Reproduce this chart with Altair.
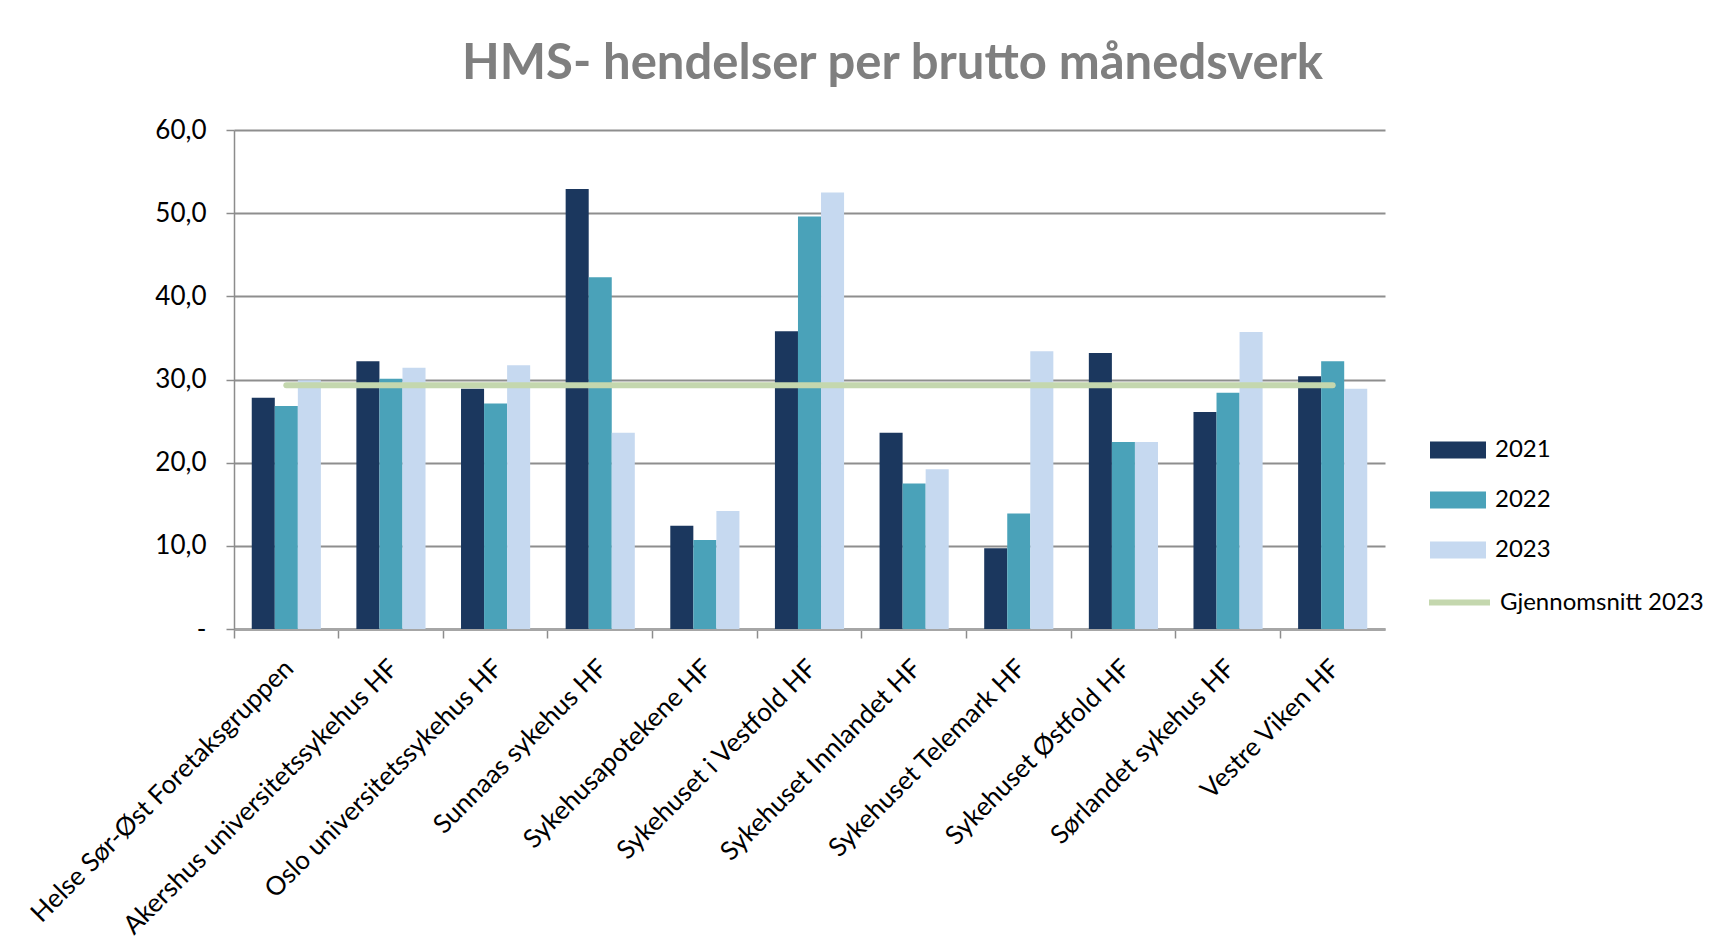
import altair as alt
import pandas as pd

categories = [
    "Helse Sør-Øst Foretaksgruppen",
    "Akershus universitetssykehus HF",
    "Oslo universitetssykehus HF",
    "Sunnaas sykehus HF",
    "Sykehusapotekene HF",
    "Sykehuset i Vestfold HF",
    "Sykehuset Innlandet HF",
    "Sykehuset Telemark HF",
    "Sykehuset Østfold HF",
    "Sørlandet sykehus HF",
    "Vestre Viken HF",
]
years = ["2021", "2022", "2023"]
v2021 = [27.8, 32.2, 28.9, 52.9, 12.4, 35.8, 23.6, 9.7, 33.2, 26.1, 30.4]
v2022 = [26.8, 30.1, 27.1, 42.3, 10.7, 49.6, 17.5, 13.9, 22.5, 28.4, 32.2]
v2023 = [29.9, 31.4, 31.7, 23.6, 14.2, 52.5, 19.2, 33.4, 22.5, 35.7, 28.9]
avg_label = "Gjennomsnitt 2023"
avg_2023 = 29.3
y_ticks = [0, 10, 20, 30, 40, 50, 60]

bar_colors = ["#1b375e", "#4aa2b9", "#c6d9f0"]
avg_color = "#c4d7ae"
FONT = "Lato"

rows = []
for yr, vals in zip(years, [v2021, v2022, v2023]):
    for c, v in zip(categories, vals):
        rows.append({"Enhet": c, "År": yr, "Verdi": v})
df = pd.DataFrame(rows)
line_df = pd.DataFrame({"Enhet": categories, "Verdi": [avg_2023] * len(categories),
                        "Serie": [avg_label] * len(categories)})

x_enc = alt.X(
    "Enhet:N", sort=categories, title=None,
    scale=alt.Scale(paddingInner=0, paddingOuter=0),
    axis=alt.Axis(
        labelAngle=-45, labelAlign="right", labelBaseline="middle",
        bandPosition=0, labelOffset=3, labelPadding=26, labelLimit=0,
        labelFont=FONT, labelFontSize=26, labelColor="#000000",
        tickSize=9, tickColor="#8c8c8c", tickWidth=1.5,
        domainColor="#a6a6a6", domainWidth=3, grid=False,
    ),
)

bars = alt.Chart(df).mark_bar().encode(
    x=x_enc,
    xOffset=alt.XOffset("År:N", sort=years,
                        scale=alt.Scale(paddingInner=0, paddingOuter=0.77)),
    y=alt.Y(
        "Verdi:Q", title=None,
        scale=alt.Scale(domain=[0, 60], nice=False),
        axis=alt.Axis(
            values=y_ticks,
            labelExpr="datum.value == 0 ? '-' : replace(format(datum.value, '.1f'), '.', ',')",
            labelFont=FONT, labelFontSize=26, labelColor="#000000", labelPadding=20,
            tickSize=8, tickColor="#8c8c8c", tickWidth=1.5,
            domainColor="#8c8c8c", domainWidth=1.5,
            grid=True, gridColor="#8e8e8e", gridWidth=1.8,
        ),
    ),
    fill=alt.Fill(
        "År:N",
        scale=alt.Scale(domain=years, range=bar_colors),
        legend=alt.Legend(
            title=None, orient="none", legendX=1196, legendY=292,
            symbolType="M-1,-0.3H1V0.3H-1Z", symbolSize=3136,
            symbolStrokeWidth=0, symbolOpacity=1,
            labelFont=FONT, labelFontSize=24, labelColor="#000000",
            labelOffset=9, rowPadding=10, padding=0, labelLimit=0,
        ),
    ),
)

avg_line = alt.Chart(line_df).mark_line(strokeWidth=6, strokeCap="round").encode(
    x=alt.X("Enhet:N", sort=categories),
    y=alt.Y("Verdi:Q"),
    stroke=alt.Stroke(
        "Serie:N",
        scale=alt.Scale(domain=[avg_label], range=[avg_color]),
        legend=alt.Legend(
            title=None, orient="none", legendX=1192, legendY=439,
            symbolType="stroke", symbolSize=3721, symbolStrokeWidth=6,
            labelFont=FONT, labelFontSize=24, labelColor="#000000",
            labelOffset=7, padding=0, labelLimit=0,
        ),
    ),
)

chart = alt.layer(bars, avg_line).properties(
    width=1151,
    height=499,
    title=alt.TitleParams(
        "HMS- hendelser per brutto månedsverk",
        font=FONT, fontSize=49, fontWeight="bold", color="#7f7f7f",
        anchor="middle", dx=83, offset=28,
    ),
    padding={"left": 18, "top": 32, "right": 0, "bottom": 0},
    background="white",
).resolve_scale(color="independent").configure_view(stroke=None)

chart.save("out.html", embed_options={"renderer": "svg", "actions": False})
